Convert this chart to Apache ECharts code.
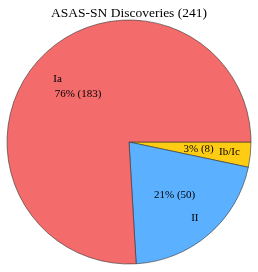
<!DOCTYPE html>
<html>
<head>
<meta charset="utf-8">
<script src="https://cdn.jsdelivr.net/npm/echarts@6/dist/echarts.min.js"></script>
<style>html,body{margin:0;padding:0;background:#fff;}#c{width:258px;height:272px;}</style>
</head>
<body>
<div id="c"></div>
<script>
var categories = ['Ib/Ic', 'II', 'Ia'];
var counts = [8, 50, 183];
var colors = ['#FFCC14', '#5BB1FF', '#F46B6B'];
var titleText = 'ASAS-SN Discoveries (241)';

var total = counts.reduce(function (a, b) { return a + b; }, 0);
var font = 'Liberation Serif';
var center = [129, 142];
var nameOffsets = { 'Ia': [2, 6] };

function mkData(withColor, offsets) {
  return categories.map(function (c, i) {
    var d = {
      name: c,
      value: counts[i],
      itemStyle: withColor ? { color: colors[i], borderColor: '#333', borderWidth: 0.6 } : { color: 'rgba(0,0,0,0)' }
    };
    if (offsets && offsets[c]) d.label = { offset: offsets[c] };
    return d;
  });
}

var chart = echarts.init(document.getElementById('c'), null, { renderer: 'canvas' });
chart.setOption({
  animation: false,
  title: {
    text: titleText, left: 'center', top: 1,
    textStyle: { fontFamily: font, fontSize: 13.5, fontWeight: 'normal', color: '#000' }
  },
  series: [
    {
      type: 'pie', center: center, radius: [0, 122], startAngle: 0, clockwise: true,
      silent: true, label: { show: false }, labelLine: { show: false },
      data: mkData(true), emphasis: { disabled: true }
    },
    {
      type: 'pie', center: center, radius: [59, 75], startAngle: 0, clockwise: true,
      silent: true, labelLine: { show: false }, emphasis: { disabled: true },
      label: {
        show: true, position: 'inside', fontFamily: font, fontSize: 11, color: '#000',
        formatter: function (p) { return Math.round(p.value / total * 100) + '% (' + p.value + ')'; }
      },
      data: mkData(false)
    },
    {
      type: 'pie', center: center, radius: [91, 105], startAngle: 0, clockwise: true,
      silent: true, labelLine: { show: false }, emphasis: { disabled: true },
      label: {
        show: true, position: 'inside', fontFamily: font, fontSize: 11, color: '#000',
        formatter: '{b}'
      },
      data: mkData(false, nameOffsets)
    }
  ]
});
</script>
</body>
</html>
